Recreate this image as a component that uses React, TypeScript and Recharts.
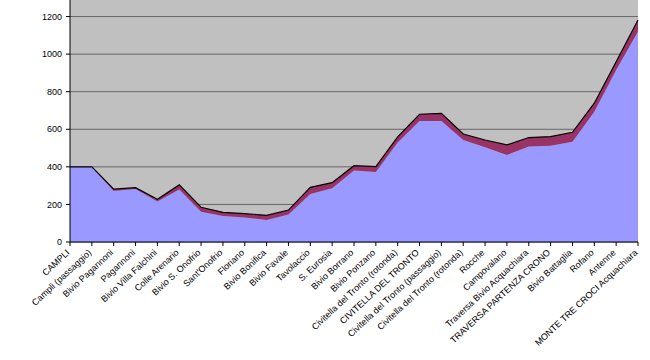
import { AreaChart, Area, XAxis, YAxis, CartesianGrid } from 'recharts';

const places = [
  'CAMPLI',
  'Campli (passaggio)',
  'Bivio Pagannoni',
  'Pagannoni',
  'Bivio Villa Falchini',
  'Colle Arenario',
  'Bivio S. Onofrio',
  "Sant'Onofrio",
  'Floriano',
  'Bivio Bonifica',
  'Bivio Favale',
  'Tavolaccio',
  'S. Eurosia',
  'Bivio Borrano',
  'Bivio Ponzano',
  'Civitella del Tronto (rotonda)',
  'CIVITELLA DEL TRONTO',
  'Civitella del Tronto (passaggio)',
  'Civitella del Tronto (rotonda)',
  'Rocche',
  'Campovalano',
  'Traversa Bivio Acquachiara',
  'TRAVERSA PARTENZA CRONO',
  'Bivio Battaglia',
  'Rofano',
  'Antenne',
  'MONTE TRE CROCI Acquachiara',
];

// quota (m)
const altitude = [
  400, 400, 272, 282, 215, 280, 161, 138, 131, 117, 147, 256, 286, 380,
  373, 530, 644, 644, 543, 504, 463, 508, 513, 534, 694, 916, 1120,
];

// fascia superiore
const band = [
  0, 0, 9, 7, 12, 24, 24, 20, 20, 25, 23, 35, 30, 26,
  28, 30, 36, 41, 32, 39, 54, 48, 48, 50, 45, 44, 62,
];

const yTicks = [0, 200, 400, 600, 800, 1000, 1200];

const data = places.map((name, i) => ({
  name: name + '#' + i,
  altitude: altitude[i],
  band: band[i],
}));

function RotatedTick(props: any) {
  const { x, y, payload } = props;
  const label = String(payload.value).split('#')[0];
  return (
    <g transform={`translate(${x - 2},${y + 1})`}>
      <text
        x={0}
        y={0}
        dy="0.35em"
        textAnchor="end"
        transform="rotate(-43)"
        fontSize={9}
        fontFamily="Liberation Sans, Arial, sans-serif"
        fill="#000"
      >
        {label}
      </text>
    </g>
  );
}

export default function App() {
  return (
    <div
      style={{
        position: 'fixed',
        top: 0,
        left: 0,
        width: 650,
        height: 360,
        overflow: 'hidden',
        background: '#fff',
      }}
    >
      <div style={{ position: 'absolute', top: -21, left: 0 }}>
        <AreaChart
          width={650}
          height={400}
          data={data}
          margin={{ top: 0, right: 12, bottom: 0, left: 0 }}
        >
          <CartesianGrid
            vertical={false}
            stroke="#666666"
            fill="#c0c0c0"
            fillOpacity={1}
          />
          <XAxis
            dataKey="name"
            interval={0}
            height={137}
            tickSize={4}
            tickMargin={4}
            stroke="#000"
            tick={<RotatedTick />}
          />
          <YAxis
            domain={[0, 1400]}
            ticks={yTicks}
            width={70}
            tickSize={4}
            tickMargin={4}
            stroke="#000"
            tick={{ fontSize: 9, fill: '#000', fontFamily: 'Liberation Sans, Arial, sans-serif' }}
          />
          <Area
            type="linear"
            dataKey="altitude"
            stackId="a"
            stroke="none"
            fill="#9999ff"
            fillOpacity={1}
            isAnimationActive={false}
          />
          <Area
            type="linear"
            dataKey="band"
            stackId="a"
            stroke="#000"
            strokeWidth={1.2}
            fill="#993366"
            fillOpacity={1}
            isAnimationActive={false}
          />
        </AreaChart>
      </div>
    </div>
  );
}
